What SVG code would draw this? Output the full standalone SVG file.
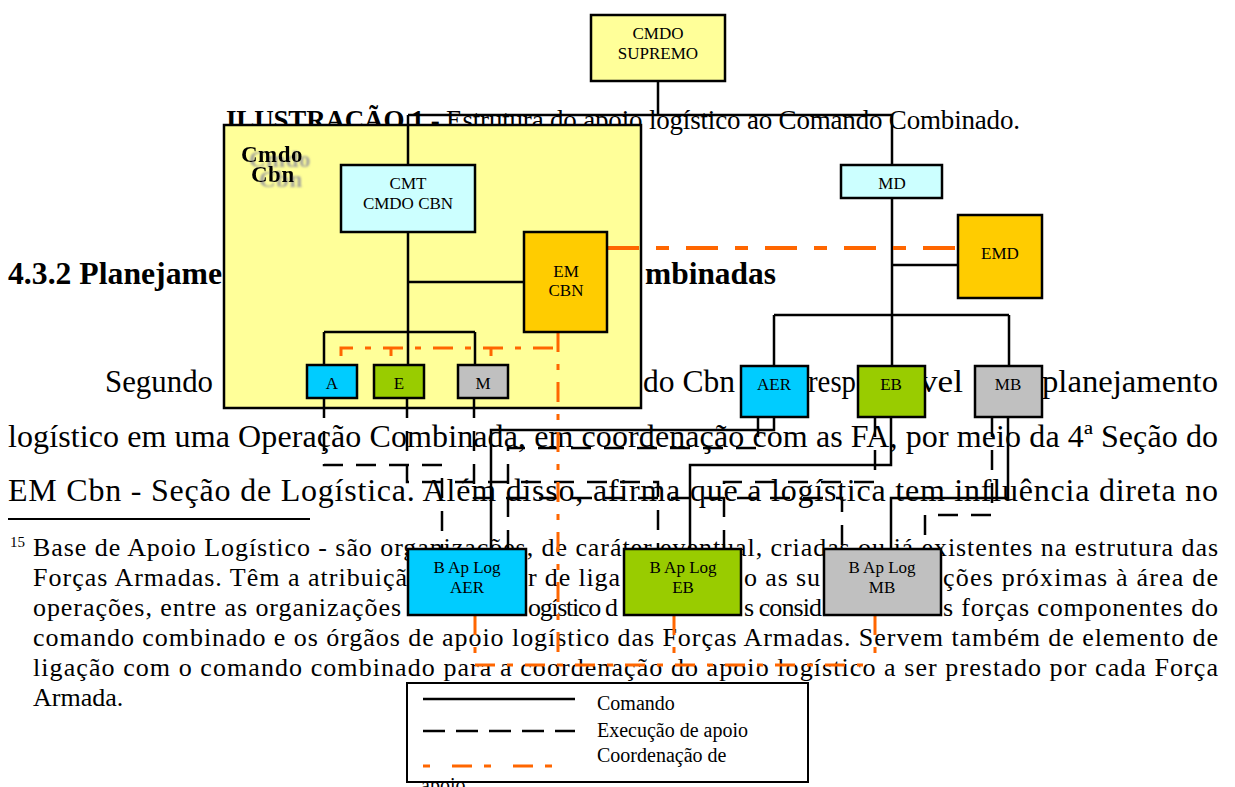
<svg xmlns="http://www.w3.org/2000/svg" width="1235" height="787" viewBox="0 0 1235 787">
<defs>
<filter id="shadow" x="-20%" y="-20%" width="160%" height="160%">
<feDropShadow dx="8" dy="5" stdDeviation="1" flood-color="#9a9a9a" flood-opacity="0.9"/>
</filter>
</defs>
<style>
.doc{font-family:"Liberation Serif","Times New Roman",serif;fill:#000}
.body{font-size:32px}
.fn{font-size:26px}
.lbl{font-family:"Liberation Serif","Times New Roman",serif;font-size:17px;fill:#000;text-anchor:middle}
.box{stroke:#000;stroke-width:2.5}
.solid{fill:none;stroke:#000;stroke-width:2.5}
.exec{fill:none;stroke:#000;stroke-width:2.5;stroke-dasharray:20 13}
.coord{fill:none;stroke:#ff6600;stroke-width:3;stroke-dasharray:20 12 6 12}
.coordw{fill:none;stroke:#ff6600;stroke-width:4;stroke-dasharray:32 17 13 17}
</style>
<rect width="1235" height="787" fill="#fff"/>

<!-- document text (beneath the diagram) -->
<g id="document-text" class="doc">
<text x="226" y="129" font-size="27" textLength="794" lengthAdjust="spacing"><tspan font-weight="bold">ILUSTRAÇÃO 1 -</tspan> Estrutura do apoio logístico ao Comando Combinado.</text>
<text x="8" y="284" font-size="31" font-weight="bold" textLength="214" lengthAdjust="spacingAndGlyphs">4.3.2 Planejame</text>
<text x="645" y="284" font-size="31" font-weight="bold" textLength="131" lengthAdjust="spacingAndGlyphs">mbinadas</text>
<g class="body">
<text x="105" y="392" textLength="108" lengthAdjust="spacingAndGlyphs">Segundo</text>
<text x="643" y="392" textLength="92" lengthAdjust="spacingAndGlyphs">do Cbn</text>
<text x="808" y="392" textLength="48" lengthAdjust="spacingAndGlyphs">resp</text>
<text x="920" y="392" textLength="43" lengthAdjust="spacingAndGlyphs">vel</text>
<text x="1042" y="392" textLength="176" lengthAdjust="spacingAndGlyphs">planejamento</text>
<text x="8" y="447" textLength="1210" lengthAdjust="spacing">logístico em uma Operação Combinada, em coordenação com as FA, por meio da 4ª Seção do</text>
<text x="8" y="501" textLength="1210" lengthAdjust="spacing">EM Cbn - Seção de Logística. Além disso, afirma que a logística tem influência direta no</text>
</g>
<line x1="8" y1="519" x2="310" y2="519" stroke="#000" stroke-width="2"/>
<text x="10" y="547" font-size="15">15</text>
<g class="fn">
<text x="33" y="556" textLength="1185" lengthAdjust="spacing">Base de Apoio Logístico - são organizações, de caráter eventual, criadas ou já existentes na estrutura das</text>
<text x="33" y="586" textLength="374" lengthAdjust="spacing">Forças Armadas. Têm a atribuiçã</text>
<text x="528" y="586" textLength="92" lengthAdjust="spacing">r de liga</text>
<text x="744" y="586" textLength="76" lengthAdjust="spacing">o as su</text>
<text x="943" y="586" textLength="275" lengthAdjust="spacing">ções próximas à área de</text>
<text x="33" y="616" textLength="368" lengthAdjust="spacing">operações, entre as organizações</text>
<text x="528" y="616" textLength="90" lengthAdjust="spacing">ogístico d</text>
<text x="744" y="616" textLength="78" lengthAdjust="spacing">s consid</text>
<text x="943" y="616" textLength="275" lengthAdjust="spacing">s forças componentes do</text>
<text x="33" y="646" textLength="1185" lengthAdjust="spacing">comando combinado e os órgãos de apoio logístico das Forças Armadas. Servem também de elemento de</text>
<text x="33" y="676" textLength="1185" lengthAdjust="spacing">ligação com o comando combinado para a coordenação do apoio logístico a ser prestado por cada Força</text>
<text x="33" y="706">Armada.</text>
</g>
</g>

<!-- container -->
<g id="cmdo-cbn">
<rect x="224" y="125" width="417" height="283" fill="#ffff99" class="box"/>
<g filter="url(#shadow)" font-family="'Liberation Serif',serif" font-weight="bold" font-size="23" fill="#000" letter-spacing="0.5">
<text x="241" y="162">Cmdo</text>
<text x="251" y="182">Cbn</text>
</g>
</g>

<!-- connectors -->
<g id="connectors">
<path class="solid" d="M658,81 V115 M408,115 H892 M408,115 V165 M408,232 V332 M408,282 H524 M324,332 H475 M324,332 V365 M408,332 V365 M475,332 V365"/>
<path class="solid" d="M892,115 V165 M892,198 V315 M892,265 H958 M774,315 H1009 M774,315 V366 M892,315 V366 M1009,315 V366"/>
<path class="solid" d="M774,417 V430 H491 V549 M891,417 V465 H690 V549 M1008,417 V498 H891 V549"/>
<path class="exec" d="M758,417 V448 H508 V549"/>
<path class="exec" d="M875,417 V482 H724 V549"/>
<path class="exec" d="M992,417 V515 H925 V549"/>
<path class="exec" d="M324,398 V465 H442 V549"/>
<path class="exec" d="M407,398 V482 H658 V549"/>
<path class="exec" d="M474,398 V498 H842 V549"/>
<path class="coordw" d="M607,248 H958"/>
<path class="coord" d="M341,356 V348 H558"/>
<path class="coord" d="M391,348 V356 M491,348 V356"/>
<path class="coord" d="M558,332 V665"/>
<path class="coord" d="M475,615 V665 H875 M674,615 V665 M875,615 V665"/>
</g>

<!-- nodes -->
<g id="cmdo-supremo"><rect x="591" y="15" width="134" height="66" fill="#ffff99" class="box"/><text class="lbl" x="658" y="39">CMDO</text><text class="lbl" x="658" y="59">SUPREMO</text></g>
<g id="cmt"><rect x="341" y="165" width="134" height="67" fill="#ccffff" class="box"/><text class="lbl" x="408" y="189">CMT</text><text class="lbl" x="408" y="209">CMDO CBN</text></g>
<g id="em-cbn"><rect x="524" y="232" width="83" height="100" fill="#ffcc00" class="box"/><text class="lbl" x="566" y="277">EM</text><text class="lbl" x="566" y="296">CBN</text></g>
<g id="a"><rect x="307" y="365" width="50" height="33" fill="#00ccff" class="box"/><text class="lbl" x="332" y="389">A</text></g>
<g id="e"><rect x="374" y="365" width="50" height="33" fill="#99cc00" class="box"/><text class="lbl" x="399" y="389">E</text></g>
<g id="m"><rect x="458" y="365" width="50" height="33" fill="#c0c0c0" class="box"/><text class="lbl" x="483" y="389">M</text></g>
<g id="md"><rect x="841" y="165" width="101" height="33" fill="#ccffff" class="box"/><text class="lbl" x="892" y="189">MD</text></g>
<g id="emd"><rect x="958" y="215" width="84" height="83" fill="#ffcc00" class="box"/><text class="lbl" x="1000" y="259">EMD</text></g>
<g id="aer"><rect x="741" y="366" width="67" height="51" fill="#00ccff" class="box"/><text class="lbl" x="774" y="390">AER</text></g>
<g id="eb"><rect x="858" y="366" width="67" height="51" fill="#99cc00" class="box"/><text class="lbl" x="891" y="390">EB</text></g>
<g id="mb"><rect x="975" y="366" width="67" height="51" fill="#c0c0c0" class="box"/><text class="lbl" x="1008" y="390">MB</text></g>
<g id="bapl-aer"><rect x="408" y="549" width="118" height="66" fill="#00ccff" class="box"/><text class="lbl" x="467" y="573">B Ap Log</text><text class="lbl" x="467" y="593">AER</text></g>
<g id="bapl-eb"><rect x="624" y="549" width="117" height="66" fill="#99cc00" class="box"/><text class="lbl" x="683" y="573">B Ap Log</text><text class="lbl" x="683" y="593">EB</text></g>
<g id="bapl-mb"><rect x="824" y="549" width="117" height="66" fill="#c0c0c0" class="box"/><text class="lbl" x="882" y="573">B Ap Log</text><text class="lbl" x="882" y="593">MB</text></g>

<!-- legend -->
<g id="legend">
<rect x="407" y="683" width="401" height="99" fill="#fff" stroke="#000" stroke-width="2"/>
<line x1="423" y1="699" x2="575" y2="699" stroke="#000" stroke-width="2.5"/>
<line x1="423" y1="731" x2="575" y2="731" stroke="#000" stroke-width="2.5" stroke-dasharray="22 11"/>
<line x1="423" y1="766" x2="567" y2="766" stroke="#ff6600" stroke-width="3" stroke-dasharray="7 22 20 12"/>
<text class="doc" x="597" y="710" font-size="20">Comando</text>
<text class="doc" x="597" y="737" font-size="20">Execução de apoio</text>
<text class="doc" x="597" y="762" font-size="20">Coordenação de</text>
<text class="doc" x="421" y="792" font-size="20">apoio</text>
</g>
</svg>
